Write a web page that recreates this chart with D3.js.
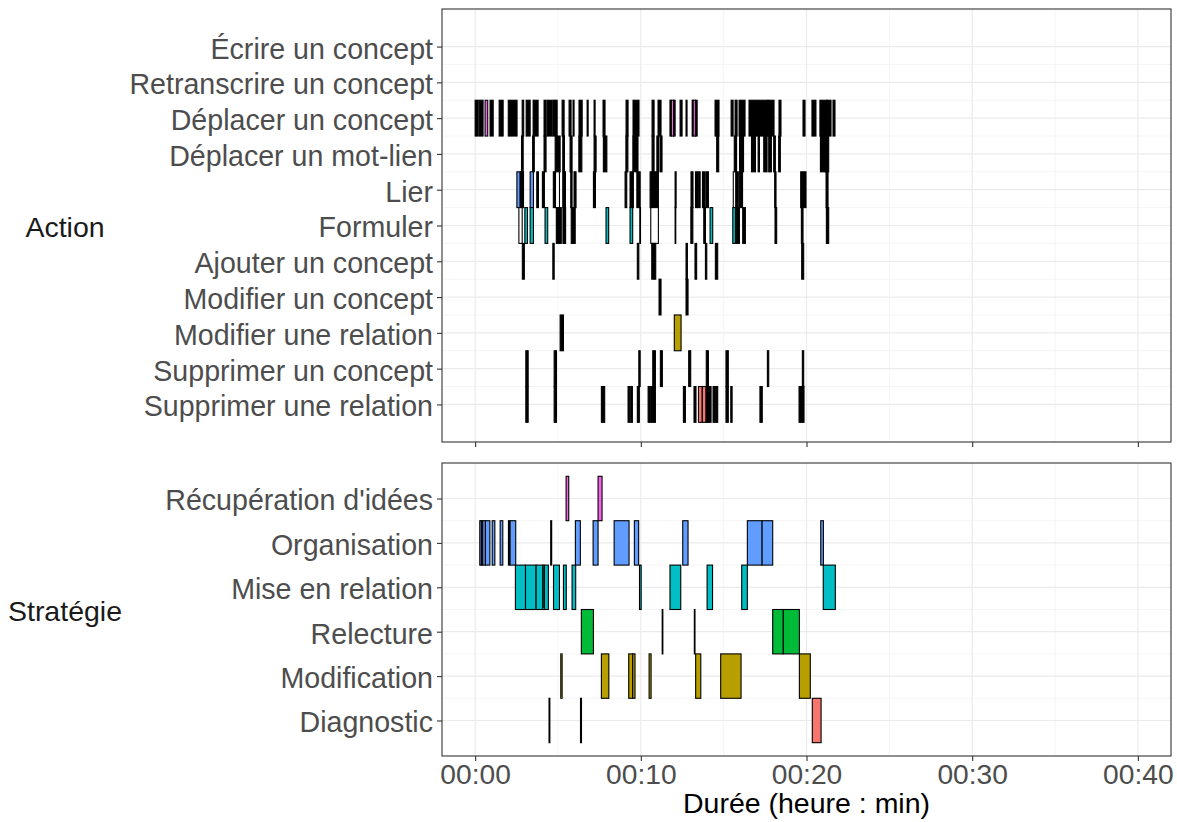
<!DOCTYPE html>
<html>
<head>
<meta charset="utf-8">
<script src="https://cdn.jsdelivr.net/npm/d3@7"></script>
<style>
  html, body { margin: 0; padding: 0; background: #fff; }
  svg { display: block; font-family: "Liberation Sans", Arial, Helvetica, sans-serif; }
</style>
</head>
<body>
<svg id="chart" width="1177" height="822"></svg>
<script>
// ---------- categories ----------
const actions = ["Écrire un concept", "Retranscrire un concept", "Déplacer un concept",
  "Déplacer un mot-lien", "Lier", "Formuler", "Ajouter un concept", "Modifier un concept",
  "Modifier une relation", "Supprimer un concept", "Supprimer une relation"];
const strategies = ["Récupération d'idées", "Organisation", "Mise en relation",
  "Relecture", "Modification", "Diagnostic"];
const strategyColors = ["#F564E3", "#619CFF", "#00BFC4", "#00BA38", "#B79F00", "#F8766D"];
const facetNames = ["Action", "Stratégie"];
const xTicks = [0, 10, 20, 30, 40];
const xTickLabels = ["00:00", "00:10", "00:20", "00:30", "00:40"];
const xTitle = "Durée (heure : min)";

const REC = strategies[0], ORG = strategies[1], MER = strategies[2],
      REL = strategies[3], MOD = strategies[4], DIA = strategies[5];
const K = "Non attribué";   // dense / unattributed events (drawn dark)
const W = "Sans stratégie"; // empty events

// ---------- action events: [start (min), end (min), strategy] ----------
const ecrireConcept = [];
const retranscrireConcept = [];
const deplacerConcept = [[0.0,0.18,K],[0.24,0.48,K],[0.6,0.76,REC],[0.9,1.09,K],[1.45,1.69,K],[2.0,2.53,K],
  [2.84,2.93,K],[3.08,3.32,K],[3.5,3.8,K],[4.16,4.28,K],[4.34,4.65,K],[4.7,4.83,K],[4.85,4.95,K],[5.25,5.37,K],
  [5.67,5.79,K],[5.91,5.97,K],[6.27,6.46,K],[6.76,6.82,K],[7.18,7.24,K],[7.72,7.84,K],[9.11,9.23,K],[9.53,9.89,K],
  [10.68,10.8,K],[11.04,11.22,K],[11.76,11.84,K],[11.84,11.98,REC],[11.98,12.07,K],[12.37,12.49,K],[12.73,12.79,K],
  [13.1,13.16,K],[13.16,13.3,REC],[13.3,13.4,K],[14.48,14.72,K],
  [15.45,15.57,K],[15.69,15.81,K],[15.93,16.29,K],[16.53,17.68,K],[17.68,18.04,K],[18.34,18.46,K],[19.79,19.91,K],
  [20.33,20.57,K],[20.81,21.24,K],[21.24,21.48,K],[21.6,21.72,K]];
const deplacerMotLien = [[2.8,2.9,K],[3.47,3.57,K],[4.16,4.28,K],[4.83,5.13,K],[5.29,5.39,K],[5.73,5.85,K],
  [6.26,6.44,K],[7.18,7.3,K],[7.74,7.95,K],[9.1,9.22,K],[9.52,9.83,K],[10.68,10.8,K],[10.97,11.07,K],[11.16,11.28,K],
  [14.58,14.7,K],[15.64,15.78,K],[15.96,16.08,K],[16.14,16.2,K],[16.68,16.92,K],[17.08,17.16,K],[17.42,17.62,K],
  [17.72,17.88,K],[18.02,18.12,K],[18.32,18.42,K],[20.84,21.14,K],[21.14,21.34,K]];
const lier = [[2.52,2.72,ORG],[2.72,2.92,K],[3.32,3.52,ORG],[3.72,3.82,K],[4.06,4.18,K],[4.72,4.83,K],[4.85,5.09,W],
  [5.29,5.45,K],[5.77,5.85,K],[5.97,6.09,K],[7.14,7.26,K],[9.05,9.15,K],[9.35,9.55,K],[9.76,9.96,K],[10.56,11.06,K],
  [12.07,12.13,K],[13.03,13.15,K],[13.3,13.42,K],[13.46,13.58,K],[13.72,13.84,K],[13.92,14.08,K],[15.58,15.74,W],
  [15.74,15.88,K],[15.94,16.14,K],[18.08,18.16,K],[19.65,19.97,K],[21.18,21.3,K]];
const formuler = [[2.64,2.84,W],[3.0,3.16,MER],[3.32,3.52,MER],[4.22,4.38,MER],[4.9,5.2,K],[5.3,5.46,K],[5.8,6.04,K],
  [7.9,8.06,MER],[9.35,9.51,MER],[9.94,9.98,K],[10.6,11.06,W],[12.07,12.11,K],[13.02,13.14,K],[13.8,13.9,K],
  [14.18,14.34,MER],[15.55,15.71,MER],[15.75,15.95,K],[16.15,16.31,K],[18.1,18.2,K],[19.69,19.79,K],[21.2,21.34,K]];
const ajouterConcept = [[2.85,2.97,K],[4.69,4.77,K],[9.79,9.88,K],[10.66,10.9,K],[12.73,12.81,K],[13.27,13.37,K],
  [13.9,13.98,K],[14.5,14.64,K],[19.71,19.83,K]];
const modifierConcept = [[11.1,11.22,K],[12.73,12.85,K]];
const modifierRelation = [[5.13,5.33,K],[12.02,12.43,MOD]];
const supprimerConcept = [[3.06,3.2,K],[4.77,4.91,K],[9.88,9.96,K],[10.72,10.88,K],[11.18,11.3,K],[12.89,13.01,K],
  [13.95,14.08,K],[15.14,15.28,K],[17.64,17.72,K],[19.75,19.83,K]];
const supprimerRelation = [[3.06,3.2,K],[4.77,4.91,K],[7.62,7.82,K],[9.23,9.33,K],[9.39,9.49,K],[9.79,9.91,K],
  [10.44,10.56,K],[10.6,10.88,K],[12.57,12.69,K],[13.21,13.33,K],[13.48,13.7,DIA],[13.72,13.94,DIA],
  [13.94,14.24,K],[14.36,14.48,K],[14.52,14.64,K],[15.14,15.28,K],[15.43,15.51,K],[17.19,17.33,K],[19.55,19.85,K]];
const actionEvents = [ecrireConcept, retranscrireConcept, deplacerConcept, deplacerMotLien, lier, formuler,
  ajouterConcept, modifierConcept, modifierRelation, supprimerConcept, supprimerRelation];

// ---------- strategy episodes: [start (min), end (min)] ----------
const recuperation = [[5.49,5.65],[7.42,7.66]];
const organisation = [[0.28,0.38],[0.38,0.46],[0.46,0.62],[0.62,0.89],[1.03,1.19],[1.51,1.67],[2.01,2.08],
  [2.11,2.45],[4.56,4.62],[6.05,6.35],[7.12,7.42],[8.39,9.29],[9.61,9.87],[12.53,12.85],[16.43,17.32],
  [17.32,17.96],[20.86,21.02]];
const miseEnRelation = [[2.43,3.04],[3.04,3.68],[3.68,4.09],[4.09,4.16],[4.18,4.42],[4.73,5.09],[5.33,5.5],
  [5.85,6.07],[9.92,10.02],[11.76,12.41],[14.0,14.33],[16.09,16.43],[21.01,21.74]];
const relecture = [[6.41,7.14],[11.29,11.33],[13.23,13.27],[17.96,18.6],[18.6,19.57]];
const modification = [[5.17,5.25],[7.62,8.07],[9.27,9.51],[9.51,9.65],[10.5,10.62],[13.31,13.62],[14.82,16.05],
  [19.57,20.23]];
const diagnostic = [[4.46,4.51],[6.36,6.42],[20.35,20.88]];
const strategyEvents = [recuperation, organisation, miseEnRelation, relecture, modification, diagnostic];

// ---------- scales ----------
const svg = d3.select("#chart");
const left = 442, right = 1171;
const x = d3.scaleLinear().domain([-2, 42]).range([left, right]);

const fill = d3.scaleOrdinal()
  .domain(strategies.concat([K, W]))
  .range(strategyColors.concat(["#000000", "#FFFFFF"]));

const panels = [
  { name: facetNames[0], cats: actions, top: 9, bottom: 442,
    rows: actions.flatMap((a, i) => actionEvents[i].map(e => ({ cat: a, s: e[0], e: e[1], strat: e[2] }))) },
  { name: facetNames[1], cats: strategies, top: 463, bottom: 756,
    rows: strategies.flatMap((a, i) => strategyEvents[i].map(e => ({ cat: a, s: e[0], e: e[1], strat: a }))) }
];

panels.forEach((p, pi) => {
  const n = p.cats.length;
  const pos = c => n - p.cats.indexOf(c);   // first category on top
  const pad = 0.05 * n;
  const y = d3.scaleLinear().domain([0.5 - pad, n + 0.5 + pad]).range([p.bottom, p.top]);
  const g = svg.append("g");

  g.append("rect").attr("x", left).attr("y", p.top).attr("width", right - left)
    .attr("height", p.bottom - p.top).attr("fill", "#fff");

  const minorY = d3.range(1, n).map(v => v + 0.5);
  const minorX = [5, 15, 25, 35];
  g.selectAll(".gminy").data(minorY).join("line")
    .attr("x1", left).attr("x2", right).attr("y1", d => y(d)).attr("y2", d => y(d))
    .attr("stroke", "#F2F2F2").attr("stroke-width", 0.8);
  g.selectAll(".gminx").data(minorX).join("line")
    .attr("y1", p.top).attr("y2", p.bottom).attr("x1", d => x(d)).attr("x2", d => x(d))
    .attr("stroke", "#F2F2F2").attr("stroke-width", 0.8);
  g.selectAll(".gmajy").data(d3.range(1, n + 1)).join("line")
    .attr("x1", left).attr("x2", right).attr("y1", d => y(d)).attr("y2", d => y(d))
    .attr("stroke", "#EBEBEB").attr("stroke-width", 1.2);
  g.selectAll(".gmajx").data(xTicks).join("line")
    .attr("y1", p.top).attr("y2", p.bottom).attr("x1", d => x(d)).attr("x2", d => x(d))
    .attr("stroke", "#EBEBEB").attr("stroke-width", 1.2);

  g.selectAll(".bar").data(p.rows).join("rect")
    .attr("x", d => x(d.s))
    .attr("width", d => Math.max(0.5, x(d.e) - x(d.s)))
    .attr("y", d => y(pos(d.cat) + 0.5))
    .attr("height", d => y(pos(d.cat) - 0.5) - y(pos(d.cat) + 0.5))
    .attr("fill", d => fill(d.strat))
    .attr("stroke", "#000").attr("stroke-width", 1.1);

  g.append("rect").attr("x", left).attr("y", p.top).attr("width", right - left)
    .attr("height", p.bottom - p.top).attr("fill", "none").attr("stroke", "#333333").attr("stroke-width", 1.1);

  const ya = g.append("g").attr("transform", `translate(${left},0)`)
    .call(d3.axisLeft(y).tickValues(d3.range(1, n + 1)).tickSize(5).tickPadding(4)
      .tickFormat(v => p.cats[n - v]));
  ya.select(".domain").remove();
  ya.selectAll(".tick line").attr("stroke", "#333333").attr("stroke-width", 1.1);
  ya.selectAll(".tick text").attr("fill", "#4D4D4D").attr("dy", "0.4em").style("font-size", "28.6px");

  const xa = g.append("g").attr("transform", `translate(0,${p.bottom})`)
    .call(d3.axisBottom(x).tickValues(xTicks).tickSize(5).tickPadding(3)
      .tickFormat((v, i) => pi === panels.length - 1 ? xTickLabels[i] : ""));
  xa.select(".domain").remove();
  xa.selectAll(".tick line").attr("stroke", "#333333").attr("stroke-width", 1.1);
  xa.selectAll(".tick text").attr("fill", "#4D4D4D").style("font-size", "28.2px");

  g.append("text").attr("x", 65).attr("y", (p.top + p.bottom) / 2)
    .attr("text-anchor", "middle").attr("dy", "0.4em")
    .style("font-size", "28.5px").attr("fill", "#1A1A1A").text(p.name);
});

svg.append("text").attr("x", (left + right) / 2).attr("y", 813)
  .attr("text-anchor", "middle").style("font-size", "28.5px").attr("fill", "#000").text(xTitle);
</script>
</body>
</html>
